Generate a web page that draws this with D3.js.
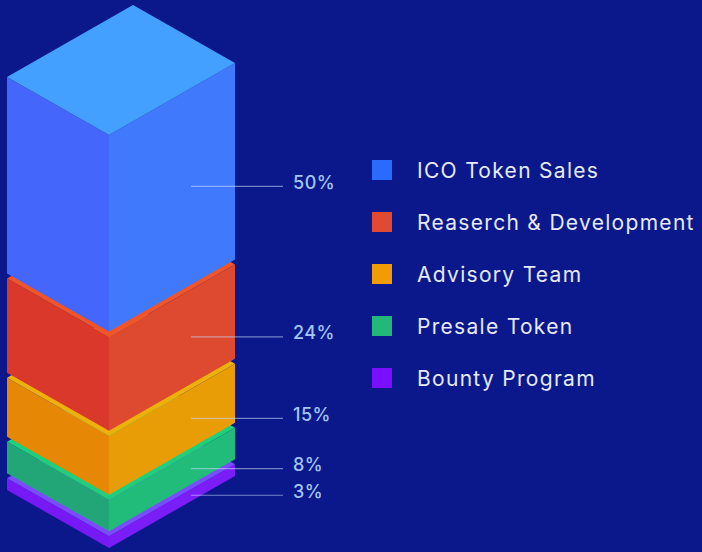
<!DOCTYPE html>
<html>
<head>
<meta charset="utf-8">
<script src="https://cdn.jsdelivr.net/npm/d3@7"></script>
<style>
  body { margin: 0; background: #0b188b; }
  svg { display: block; }
</style>
</head>
<body>
<div id="chart"></div>
<script>
// Chart data (legend order, top block first).
var categories = ["ICO Token Sales", "Reaserch & Development", "Advisory Team", "Presale Token", "Bounty Program"];
var values = [50, 24, 15, 8, 3];
var valueLabels = ["50%", "24%", "15%", "8%", "3%"];

// Face colours for each block: top, left, right; plus legend swatch.
var topColors = ["#44a0fe", "#f05428", "#eeb00a", "#1ecf7c", "#7b4cff"];
var leftColors = ["#4566fa", "#d9382a", "#e68806", "#23a677", "#7719f4"];
var rightColors = ["#4179fc", "#dd4a30", "#e89c05", "#21bb7a", "#7a1df7"];
var swatchColors = ["#2a6cff", "#e04a30", "#f19c06", "#23b879", "#7a0eff"];

var svgWidth = 702;
var svgHeight = 552;

// Isometric frame: front edge x, offsets to the left and right corners.
var frontX = 109;
var leftVec = [-102, -58];
var rightVec = [126, -72];
var baseY = 548;
var gap = 5;

var svg = d3.select("#chart")
  .append("svg")
  .attr("width", svgWidth)
  .attr("height", svgHeight);

svg.append("rect")
  .attr("width", svgWidth)
  .attr("height", svgHeight)
  .attr("fill", "#0b188b");

// Block height proportional to share.
var heightScale = d3.scaleLinear()
  .domain([0, d3.sum(values)])
  .range([0, 393]);

// Build the blocks from the bottom up.
var blocks = [];
var y = baseY;
for (var i = values.length - 1; i >= 0; i--) {
  var h = heightScale(values[i]);
  blocks.push({ i: i, bottom: y, top: y - h });
  y = y - h - gap;
}

function pt(x, y) { return x + "," + y; }

var blockGroup = svg.append("g");

blocks.forEach(function(b) {
  var g = blockGroup.append("g");
  var fx = frontX;
  // left face
  g.append("polygon")
    .attr("points", [pt(fx, b.top), pt(fx + leftVec[0], b.top + leftVec[1]),
      pt(fx + leftVec[0], b.bottom + leftVec[1]), pt(fx, b.bottom)].join(" "))
    .attr("fill", leftColors[b.i]);
  // right face
  g.append("polygon")
    .attr("points", [pt(fx, b.top), pt(fx + rightVec[0], b.top + rightVec[1]),
      pt(fx + rightVec[0], b.bottom + rightVec[1]), pt(fx, b.bottom)].join(" "))
    .attr("fill", rightColors[b.i]);
  // top face
  g.append("polygon")
    .attr("points", [pt(fx, b.top), pt(fx + leftVec[0], b.top + leftVec[1]),
      pt(fx + leftVec[0] + rightVec[0], b.top + leftVec[1] + rightVec[1]),
      pt(fx + rightVec[0], b.top + rightVec[1])].join(" "))
    .attr("fill", topColors[b.i]);
});

// Leader lines and percentage labels on the right face.
var lineX1 = 191;
var lineX2 = 283;
var rise = (lineX1 - frontX) * (-rightVec[1] / rightVec[0]);

var labelGroup = svg.append("g");

blocks.forEach(function(b) {
  var ly = (b.top + b.bottom) / 2 - rise;
  labelGroup.append("line")
    .attr("x1", lineX1)
    .attr("x2", lineX2)
    .attr("y1", ly)
    .attr("y2", ly)
    .attr("stroke", "rgba(205,220,255,0.55)")
    .attr("stroke-width", 1.2);
  labelGroup.append("text")
    .attr("x", 293)
    .attr("y", ly - 4)
    .attr("dominant-baseline", "central")
    .attr("fill", "#a3c6f5")
    .attr("font-family", "Inter, 'DejaVu Sans', sans-serif")
    .attr("font-size", "18px")
    .attr("font-weight", 500)
    .attr("letter-spacing", "0.5px")
    .text(valueLabels[b.i]);
});

// Legend.
var legend = svg.append("g")
  .attr("transform", "translate(372, 160)");

var rows = legend.selectAll("g")
  .data(categories)
  .enter()
  .append("g")
  .attr("transform", (d, i) => `translate(0, ${i * 52})`);

rows.append("rect")
  .attr("width", 20)
  .attr("height", 20)
  .attr("fill", (d, i) => swatchColors[i]);

rows.append("text")
  .attr("x", 45)
  .attr("y", 10)
  .attr("dominant-baseline", "central")
  .attr("fill", "#e6eaf8")
  .attr("font-family", "Inter, 'DejaVu Sans', sans-serif")
  .attr("font-size", "21px")
  .attr("letter-spacing", "1.3px")
  .text(d => d);
</script>
</body>
</html>
